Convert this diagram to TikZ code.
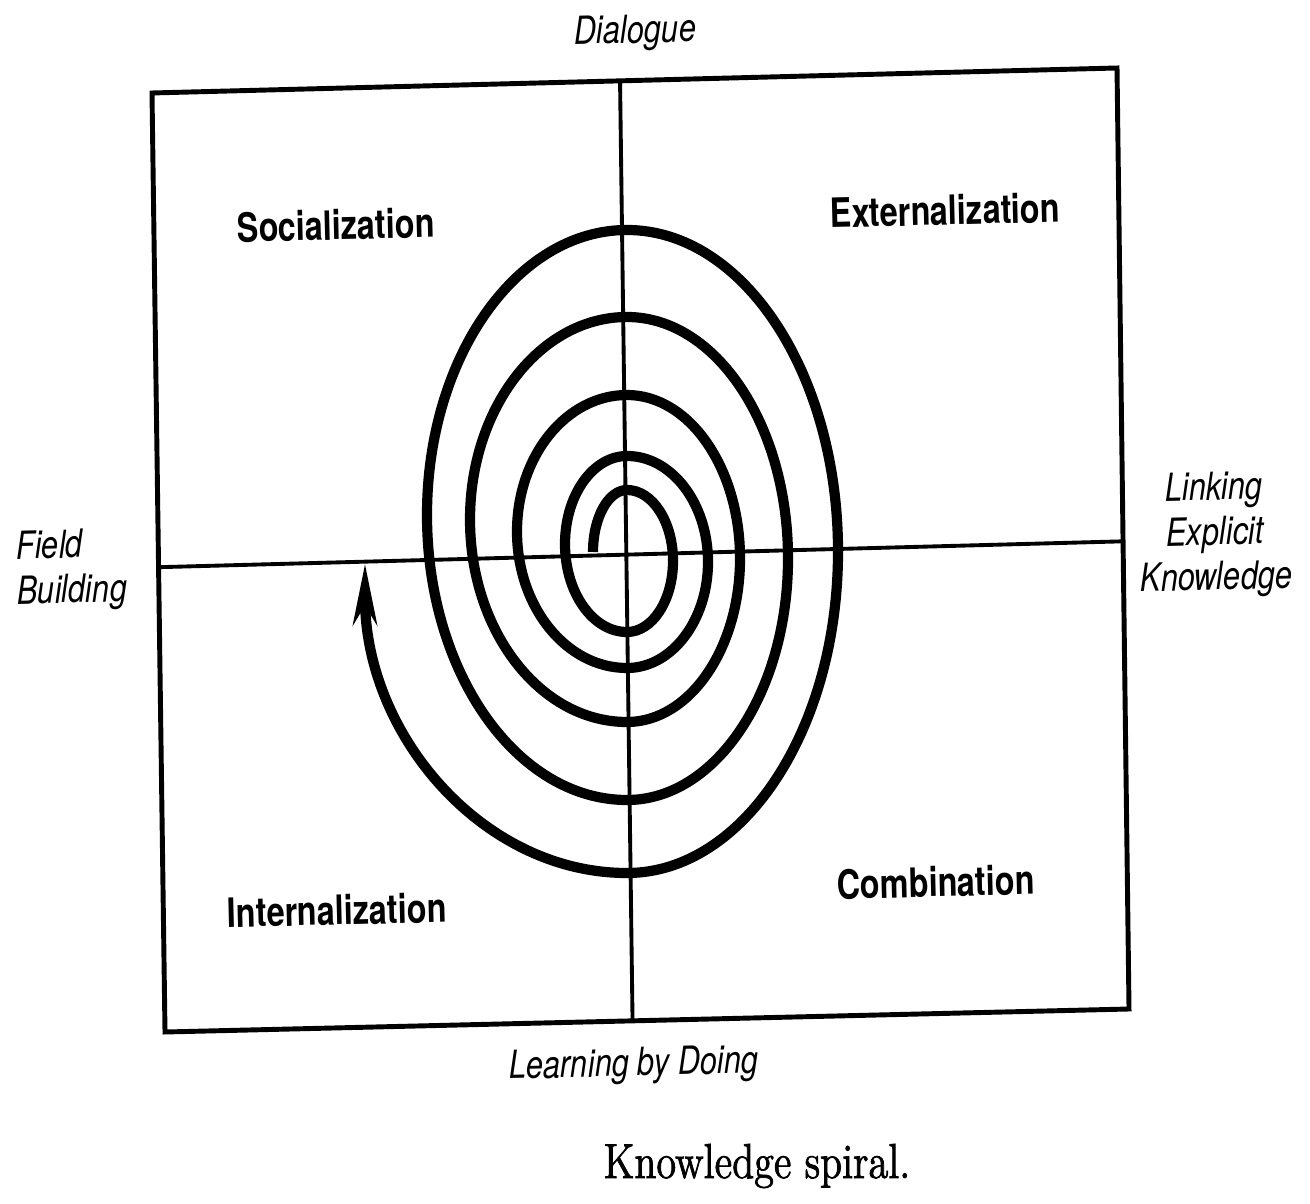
\documentclass[tikz,border=0pt]{standalone}
\usepackage{fontspec}
\newfontfamily\labelfont[FakeStretch=0.8]{TeX Gyre Heros}
\newfontfamily\captionfont[FakeStretch=0.82, FakeBold=1.5]{Latin Modern Roman}
\usetikzlibrary{arrows.meta, calc}

\begin{document}
\begin{tikzpicture}[x=0.01cm, y=0.01cm,
    frame/.style={line width=1.4pt, line join=miter},
    axis/.style={line width=1.1pt},
    spiral/.style={line width=2.9pt, -{Stealth[length=6mm, width=2.3mm, inset=1.8mm]}},
    mode/.style={font=\labelfont\bfseries\fontsize{11.5}{13}\selectfont, rotate=1.4},
    pole/.style={font=\labelfont\itshape\fontsize{11}{12.8}\selectfont, rotate=1.4}]
  \useasboundingbox (0,0) rectangle (1310,1203);

  % frame
  \coordinate (tl) at (152,1110);
  \coordinate (tr) at (1117,1135);
  \coordinate (br) at (1129,194);
  \coordinate (bl) at (165,171);
  \draw[frame] (tl) -- (tr) -- (br) -- (bl) -- cycle;

  % axes
  \draw[axis] ($(tl)!0.485!(tr)$) -- ($(bl)!0.485!(br)$);
  \draw[axis] ($(tl)!0.505!(bl)$) -- ($(tr)!0.503!(br)$);

  % spiral, one half turn at a time
  \coordinate (start) at (593,651);
  \draw[spiral] (start)
    \foreach \a/\d/\rx/\ry in {180/-90/34/62,
                               90/-180/46/71, -90/-180/62/88,
                               90/-180/81/106, -90/-180/110/136.5,
                               90/-180/113/163.5, -90/-180/157/202.5,
                               90/-180/161/241.5, -90/-180/200/285,
                               90/-180/211/321.5, -90/-90/262/310}
    { arc[start angle=\a, delta angle=\d, x radius=\rx, y radius=\ry] };

  % labels
  \node[pole] (dialogue) at (635,1170) {Dialogue};
  \node[mode] (soc) at (336,978) {Socialization};
  \node[mode] (ext) at (945,993) {Externalization};
  \node[mode] (int) at (337,293) {Internalization};
  \node[mode] (comb) at (936,321) {Combination};
  \node[pole, align=center] (link) at (1215,668) {Linking\\Explicit\\Knowledge};
  \node[pole, align=left, anchor=west] (field) at (4,631) {Field\\Building};
  \node[pole] (doing) at (634,137) {Learning by Doing};
  \node[font=\captionfont\fontsize{14}{16}\selectfont] (caption) at (757,37) {Knowledge spiral.};
\end{tikzpicture}
\end{document}
